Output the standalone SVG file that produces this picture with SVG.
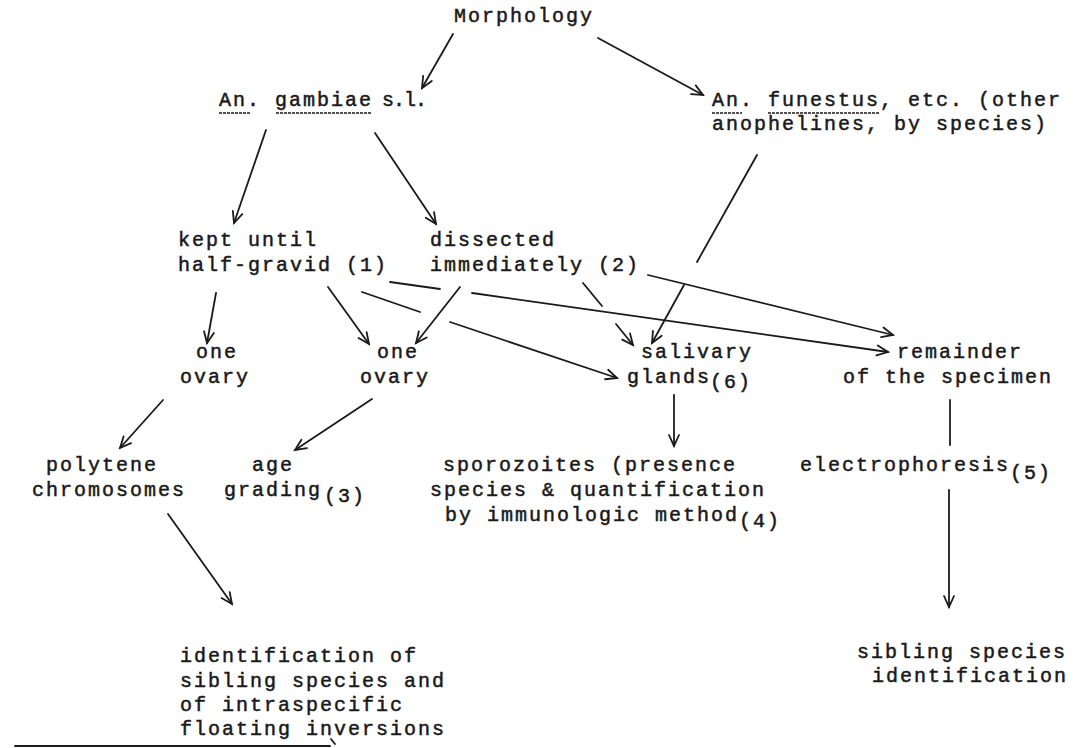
<svg xmlns="http://www.w3.org/2000/svg" width="1075" height="748" viewBox="0 0 1075 748">
<style>
.t{font-family:"Liberation Mono","DejaVu Sans Mono",monospace;font-size:20px;letter-spacing:2px;fill:#1a1a1a;stroke:#1a1a1a;stroke-width:0.5px}
.c{fill:none;stroke:#1a1a1a;stroke-width:1.8;stroke-linecap:round}
.ul{stroke:#1a1a1a;stroke-width:1.5;stroke-dasharray:3 1}
.tight{letter-spacing:-1px}
</style>
<defs>
<marker id="ah" markerWidth="16" markerHeight="16" refX="13" refY="8" orient="auto" markerUnits="userSpaceOnUse">
<path d="M2,3 L13,8 L2,13" fill="none" stroke="#1a1a1a" stroke-width="1.8" stroke-linecap="round"/>
</marker>
</defs>
<rect width="1075" height="748" fill="#ffffff"/>

<g id="morphology"><text class="t" x="454" y="22">Morphology</text></g>

<g id="gambiae">
<text class="t" x="219" y="106">An. gambiae<tspan class="tight" x="382">s.l.</tspan></text>
<line class="ul" x1="219" y1="113" x2="250" y2="113"/>
<line class="ul" x1="276" y1="113" x2="372" y2="113"/>
</g>

<g id="funestus">
<text class="t" x="712" y="106">An. funestus, etc. (other</text>
<text class="t" x="712" y="130">anophelines, by species)</text>
<line class="ul" x1="712" y1="113" x2="742" y2="113"/>
<line class="ul" x1="768" y1="113" x2="880" y2="113"/>
</g>

<g id="kept">
<text class="t" x="178" y="246">kept until</text>
<text class="t" x="178" y="271">half-gravid (1)</text>
</g>

<g id="dissected">
<text class="t" x="430" y="246">dissected</text>
<text class="t" x="430" y="271">immediately (2)</text>
</g>

<g id="ovary1">
<text class="t" x="196" y="358">one</text>
<text class="t" x="180" y="383">ovary</text>
</g>

<g id="ovary2">
<text class="t" x="377" y="358">one</text>
<text class="t" x="360" y="383">ovary</text>
</g>

<g id="salivary">
<text class="t" x="641" y="358">salivary</text>
<text class="t" x="627" y="383">glands<tspan x="710" dy="5">(6)</tspan></text>
</g>

<g id="remainder">
<text class="t" x="897" y="358">remainder</text>
<text class="t" x="843" y="383">of the specimen</text>
</g>

<g id="polytene">
<text class="t" x="46" y="471">polytene</text>
<text class="t" x="32" y="496">chromosomes</text>
</g>

<g id="age">
<text class="t" x="252" y="471">age</text>
<text class="t" x="224" y="496">grading<tspan x="324" dy="6">(3)</tspan></text>
</g>

<g id="sporozoites">
<text class="t" x="443" y="471">sporozoites (presence</text>
<text class="t" x="430" y="496">species &amp; quantification</text>
<text class="t" x="445" y="521">by immunologic method<tspan x="739" dy="6">(4)</tspan></text>
</g>

<g id="electrophoresis">
<text class="t" x="800" y="471">electrophoresis<tspan x="1010" dy="8">(5)</tspan></text>
</g>

<g id="identification">
<text class="t" x="180" y="662">identification of</text>
<text class="t" x="180" y="687">sibling species and</text>
<text class="t" x="180" y="711">of intraspecific</text>
<text class="t" x="180" y="735">floating inversions</text>
</g>

<g id="sibling">
<text class="t" x="857" y="658">sibling species</text>
<text class="t" x="872" y="682">identification</text>
</g>

<g id="connectors">
<path class="c" marker-end="url(#ah)" d="M453,34 L422,88"/>
<path class="c" marker-end="url(#ah)" d="M598,38 L703,95"/>
<path class="c" marker-end="url(#ah)" d="M266,130 L234,223"/>
<path class="c" marker-end="url(#ah)" d="M375,133 L436,224"/>
<path class="c" marker-end="url(#ah)" d="M757,155 L697,262 M684,285 L652,343"/>
<path class="c" marker-end="url(#ah)" d="M583,283 L602,306 M616,324 L633,345"/>
<path class="c" marker-end="url(#ah)" d="M460,287 L416,343"/>
<path class="c" marker-end="url(#ah)" d="M216,293 L207,343"/>
<path class="c" marker-end="url(#ah)" d="M328,287 L369,344"/>
<path class="c" marker-end="url(#ah)" d="M390,282 L440,289 M472,293 L888,352"/>
<path class="c" marker-end="url(#ah)" d="M648,275 L893,335"/>
<path class="c" marker-end="url(#ah)" d="M362,292 L420,312 M450,322 L617,378"/>
<path class="c" marker-end="url(#ah)" d="M674,395 L674,446"/>
<path class="c" d="M950,400 L950,445"/>
<path class="c" marker-end="url(#ah)" d="M949,490 L949,607"/>
<path class="c" marker-end="url(#ah)" d="M163,400 L120,448"/>
<path class="c" marker-end="url(#ah)" d="M372,399 L295,450"/>
<path class="c" marker-end="url(#ah)" d="M168,514 L232,604"/>
<path class="c" d="M15,746 L330,746"/>
<path class="c" d="M331,739 L335,744"/>
</g>
</svg>
